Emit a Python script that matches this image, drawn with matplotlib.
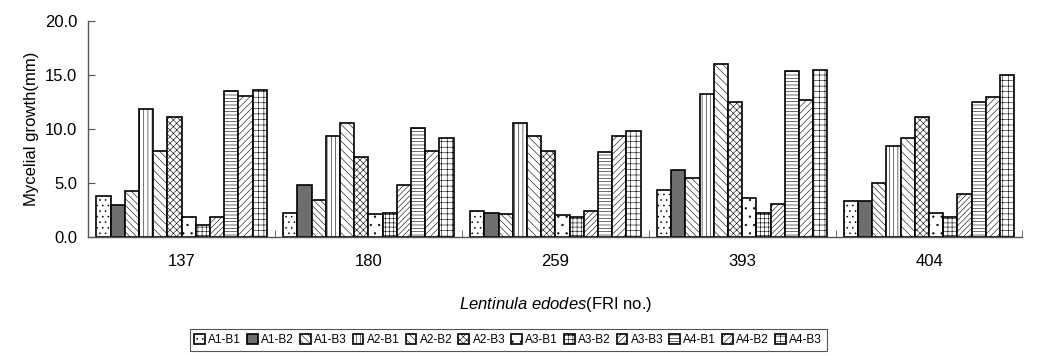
import numpy as np
import matplotlib
matplotlib.use("Agg")
import matplotlib.pyplot as plt

# strains on the x axis
strains = ["137", "180", "259", "393", "404"]
treatments = ["A1-B1", "A1-B2", "A1-B3", "A2-B1", "A2-B2", "A2-B3",
              "A3-B1", "A3-B2", "A3-B3", "A4-B1", "A4-B2", "A4-B3"]

# mycelial growth (mm), one list per strain, in treatment order
g137 = [3.8, 3.0, 4.3, 11.9, 8.0, 11.1, 1.9, 1.1, 1.9, 13.5, 13.1, 13.6]
g180 = [2.2, 4.8, 3.4, 9.4, 10.6, 7.4, 2.1, 2.2, 4.8, 10.1, 8.0, 9.2]
g259 = [2.4, 2.2, 2.1, 10.6, 9.4, 8.0, 2.0, 1.9, 2.4, 7.9, 9.4, 9.8]
g393 = [4.4, 6.2, 5.5, 13.2, 16.0, 12.5, 3.6, 2.2, 3.1, 15.4, 12.7, 15.5]
g404 = [3.3, 3.3, 5.0, 8.4, 9.2, 11.1, 2.2, 1.9, 4.0, 12.5, 13.0, 15.0]

yticks = [0, 5, 10, 15, 20]

plt.rcParams['font.family'] = ['Liberation Sans', 'DejaVu Sans']
plt.rcParams['hatch.linewidth'] = 0.4
plt.rcParams['mathtext.fontset'] = 'custom'
plt.rcParams['mathtext.it'] = 'Liberation Sans:italic'
plt.rcParams['mathtext.rm'] = 'Liberation Sans'

data = np.array([g137, g180, g259, g393, g404])

# fill / hatch for each treatment
faces = ["white", "#6e6e6e", "white", "white", "white", "white",
         "white", "white", "white", "white", "white", "white"]
hatches = ["...", "", "\\\\\\\\\\", "||||", "\\\\\\\\", "xxxxx",
           "..", "++++", "//////", "-----", "/////", "+++"]

fig = plt.figure(figsize=(10.37, 3.56), dpi=100)
ax = fig.add_axes([0.085, 0.334, 0.901, 0.607])

x = np.arange(len(strains))
width = 0.076
for i, name in enumerate(treatments):
    off = (i - (len(treatments) - 1) / 2) * width
    ax.bar(x + off, data[:, i], width, color=faces[i], edgecolor="black",
           hatch=hatches[i], linewidth=1.2, label=name)

ax.set_xlim(-0.5, len(strains) - 0.5)
ax.set_ylim(0, 20)
ax.set_yticks(yticks)
ax.set_yticklabels([f"{v:.1f}" for v in yticks], fontsize=12)
ax.set_xticks(x)
ax.set_xticklabels(strains, fontsize=12)
ax.tick_params(axis='x', length=0, pad=12)
ax.set_xticks(np.arange(-0.5, len(strains)), minor=True)
ax.tick_params(axis='x', which='minor', direction='in', length=5, color='#555555')
ax.tick_params(axis='y', direction='in', length=5, color='#555555', pad=8)

for s in ['top', 'right']:
    ax.spines[s].set_visible(False)
for s in ['left', 'bottom']:
    ax.spines[s].set_color('#555555')
    ax.spines[s].set_linewidth(1.0)

ax.set_ylabel("Mycelial growth(mm)", fontsize=12, labelpad=4)
ax.set_xlabel(r"$\mathit{Lentinula\ edodes}$(FRI no.)", fontsize=12, labelpad=19)

leg = fig.legend(loc='center', bbox_to_anchor=(0.49, 0.045), ncol=12, fontsize=8.5,
                 handlelength=0.9, handleheight=0.9, handletextpad=0.3,
                 columnspacing=0.5, fancybox=False, edgecolor='#555555',
                 borderpad=0.4, framealpha=1)
leg.get_frame().set_linewidth(0.8)

fig.savefig("out.png", dpi=100)
